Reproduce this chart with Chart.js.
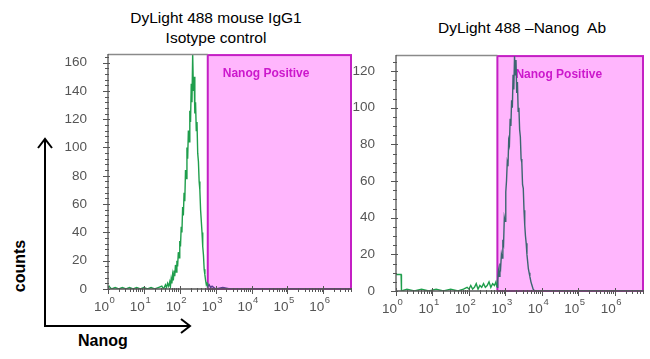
<!DOCTYPE html>
<html><head><meta charset="utf-8">
<script src="https://cdn.jsdelivr.net/npm/chart.js@4/dist/chart.umd.min.js"></script>
<style>
body{margin:0;width:650px;height:359px;position:relative;background:#fff;overflow:hidden;font-family:"Liberation Sans",Arial,sans-serif;color:#000}
.abs{position:absolute}
.title{position:absolute;font-size:15.5px;white-space:pre;transform:translateX(-50%);text-align:center;line-height:20px}
</style></head><body>
<div class="title" style="left:216px;top:8px">DyLight 488 mouse IgG1<br>Isotype control</div>
<div class="title" style="left:522px;top:18px">DyLight 488 –Nanog  Ab</div>
<div class="abs" style="left:20px;top:266px;transform:translate(-50%,-50%) rotate(-90deg);font-weight:bold;font-size:16px">counts</div>
<div class="abs" style="left:78px;top:332px;font-weight:bold;font-size:16px">Nanog</div>
<svg class="abs" style="left:0;top:0" width="650" height="359">
  <line x1="45" y1="327" x2="45" y2="139" stroke="#000" stroke-width="2"/>
  <polyline points="38,148 45,139 52,148" fill="none" stroke="#000" stroke-width="2"/>
  <line x1="44" y1="326" x2="189" y2="326" stroke="#000" stroke-width="2"/>
  <polyline points="181,319 190,326 181,333" fill="none" stroke="#000" stroke-width="2"/>
</svg>
<canvas id="cL" class="abs"></canvas>
<canvas id="cR" class="abs"></canvas>
<script>
// ---- data (x in log10 units of Nanog intensity, y = counts) ----
const xTickExps = [0,1,2,3,4,5,6];
const xTickBase = '10';
const xTickSup = ['0','1','2','3','4','5','6'];
const xMaxExp = 6.8;
const gateExp = 2.78;
const gateLabel = 'Nanog Positive';

const leftExp = [0.00,0.03,0.06,0.10,0.20,0.30,0.40,0.50,0.60,0.70,0.80,0.90,1.00,1.10,1.20,1.30,1.40,1.50,1.55,1.60,1.63,1.66,1.69,1.72,1.74,1.76,1.78,1.80,1.82,1.84,1.86,1.88,1.90,1.92,1.94,1.96,1.98,2.00,2.02,2.04,2.06,2.08,2.10,2.12,2.14,2.16,2.18,2.20,2.22,2.24,2.26,2.28,2.30,2.32,2.34,2.36,2.38,2.40,2.42,2.44,2.46,2.48,2.50,2.52,2.54,2.56,2.58,2.60,2.62,2.64,2.66,2.68,2.70,2.72,2.74,2.76,2.78,2.82,2.86,2.90,2.95,3.00,3.20,3.40,3.80,4.50,5.50,6.80];
const leftCounts = [1,2,1,0,1,0,1,0,1,0,1,0,1,0,1,0,1,2,0,3,1,4,2,5,2,7,4,10,6,13,9,17,12,20,16,26,22,34,30,44,40,58,52,68,62,84,78,100,92,112,104,126,118,145,132,166,140,150,124,132,112,118,96,90,76,70,56,48,40,30,24,14,10,6,3,4,2,3,1,2,1,0,1,0,0,0,0,0];

const rightExp = [0.00,0.14,0.15,0.30,0.50,0.70,0.90,1.10,1.30,1.50,1.70,1.85,1.95,2.00,2.05,2.10,2.15,2.20,2.25,2.30,2.35,2.40,2.45,2.50,2.55,2.60,2.65,2.70,2.74,2.77,2.79,2.81,2.83,2.85,2.87,2.89,2.91,2.93,2.95,2.97,2.99,3.01,3.03,3.05,3.07,3.09,3.11,3.13,3.15,3.17,3.19,3.21,3.23,3.25,3.27,3.29,3.31,3.33,3.35,3.37,3.39,3.41,3.43,3.45,3.47,3.49,3.51,3.53,3.55,3.57,3.59,3.61,3.63,3.65,3.67,3.70,3.73,3.76,3.80,4.00,4.50,5.50,6.80];
const rightCounts = [9,9,0,1,0,1,0,1,0,1,0,1,2,1,3,1,2,4,1,3,2,4,2,3,5,2,4,3,5,2,6,11,8,15,13,20,18,28,26,40,38,54,60,70,68,82,80,94,90,104,100,118,110,128,118,126,108,114,98,100,88,84,72,70,58,56,44,36,30,26,20,16,12,10,8,5,3,1,0,0,0,0,0];

const leftYTicks = [0,20,40,60,80,100,120,140,160];
const rightYTicks = [0,20,40,60,80,100,120];

const FONT = '"Liberation Sans", Arial, sans-serif';

function makeConfig(xs, ys, cfg){
  const pts = xs.map((x,i)=>({x:x, y:ys[i]}));
  const deco = {
    id:'deco',
    beforeDatasetsDraw(chart){
      const {ctx, chartArea:a, scales:{x, y}} = chart;
      const gx = x.getPixelForValue(gateExp), y0 = y.getPixelForValue(0);
      ctx.save();
      ctx.fillStyle = '#ffb6fd';
      ctx.fillRect(gx, a.top, a.right-gx, y0-a.top);
      ctx.strokeStyle = '#c41fc4'; ctx.lineWidth = 2;
      ctx.strokeRect(gx, a.top+1, a.right-gx-1, y0-a.top-1);
      ctx.fillStyle = '#cc18cc';
      ctx.font = 'bold 12px ' + FONT;
      ctx.textBaseline = 'middle';
      ctx.fillText(gateLabel, gx+cfg.labelDx, a.top+20);
      ctx.restore();
    },
    afterDatasetsDraw(chart){
      const {ctx, chartArea:a, scales:{x, y}} = chart;
      const y0 = y.getPixelForValue(0);
      ctx.save();
      ctx.strokeStyle = '#8a8a8a'; ctx.lineWidth = 1.5;
      ctx.beginPath(); ctx.moveTo(a.left, a.top+0.5); ctx.lineTo(x.getPixelForValue(gateExp), a.top+0.5); ctx.stroke();
      ctx.strokeStyle = '#555'; ctx.lineWidth = 1.3;
      ctx.beginPath();
      ctx.moveTo(a.left, a.top); ctx.lineTo(a.left, y0);
      ctx.moveTo(a.left, y0); ctx.lineTo(a.right, y0);
      ctx.stroke();
      ctx.lineWidth = 1;
      ctx.beginPath();
      for(let v=0; v<=y.max; v+=cfg.yMinor){
        const p = Math.round(y.getPixelForValue(v))+0.5;
        const major = v % 20 === 0;
        ctx.moveTo(a.left-(major?5:3), p); ctx.lineTo(a.left+(major?2:1), p);
      }
      for(let n=0;n<=6;n++){
        for(let k=1;k<=9;k++){
          const e = n + Math.log10(k);
          if(e > xMaxExp) continue;
          const p = Math.round(x.getPixelForValue(e))+0.5;
          const major = k===1;
          ctx.moveTo(p, y0-(major?3:1)); ctx.lineTo(p, y0+(major?5:3));
        }
      }
      ctx.stroke();
      ctx.fillStyle = '#555';
      ctx.textBaseline = 'alphabetic';
      ctx.textAlign = 'left';
      xTickExps.forEach((e,i)=>{
        const p = x.getPixelForValue(e);
        ctx.font = '13.5px ' + FONT;
        const wb = ctx.measureText(xTickBase).width;
        ctx.fillText(xTickBase, p - wb + 1, y0 + 22);
        ctx.font = '9.5px ' + FONT;
        ctx.fillText(xTickSup[i], p + 1.5, y0 + 14);
      });
      ctx.restore();
    }
  };
  return {
    type:'line',
    data:{datasets:[{
      data:pts, pointRadius:0, borderWidth:1.4, tension:0,
      borderColor:cfg.outColor,
      segment:{borderColor:c => c.p0.parsed.x >= gateExp-0.01 ? cfg.inColor : cfg.outColor}
    }]},
    options:{
      responsive:false, maintainAspectRatio:false, animation:false, devicePixelRatio:1,
      layout:{padding:{left:0,right:2,top:2,bottom:0}},
      plugins:{legend:{display:false}, tooltip:{enabled:false}},
      scales:{
        x:{type:'linear', min:0, max:xMaxExp,
          grid:{display:false}, border:{display:false},
          afterBuildTicks:s=>{s.ticks = xTickExps.map(v=>({value:v}));},
          afterFit:s=>{s.height = 34;},
          ticks:{display:false}},
        y:{min:0, max:cfg.yMax,
          grid:{display:false}, border:{display:false},
          afterBuildTicks:s=>{s.ticks = cfg.yTicks.map(v=>({value:v}));},
          afterFit:s=>{s.width = 53;},
          ticks:{padding:13, color:'#555', font:{size:13.5, family:FONT}}}
      }
    },
    plugins:[deco]
  };
}

// place a panel so that its plot area lands on the given page box
function panel(id, xs, ys, cfg, box){
  const cv = document.getElementById(id);
  cv.width = box.w + 80; cv.height = box.h + 60;
  let ch = new Chart(cv, makeConfig(xs, ys, cfg));
  const a = ch.chartArea;
  const l = a.left, t = a.top, r = cv.width - a.right, b = cv.height - a.bottom;
  ch.destroy();
  cv.width = Math.round(l + box.w + r);
  cv.height = Math.round(t + box.h + b);
  cv.style.left = (box.x - l) + 'px';
  cv.style.top = (box.y - t) + 'px';
  return new Chart(cv, makeConfig(xs, ys, cfg));
}

panel('cL', leftExp, leftCounts, {yMax:166, yTicks:leftYTicks, yMinor:4, outColor:'#1f9e4c', inColor:'#5b3f8f', labelDx:15}, {x:108, y:54, w:244, h:235});
panel('cR', rightExp, rightCounts, {yMax:128.7, yTicks:rightYTicks, yMinor:5, outColor:'#1f9e4c', inColor:'#3c6570', labelDx:18}, {x:396, y:55, w:248, h:236});
</script>
</body></html>
